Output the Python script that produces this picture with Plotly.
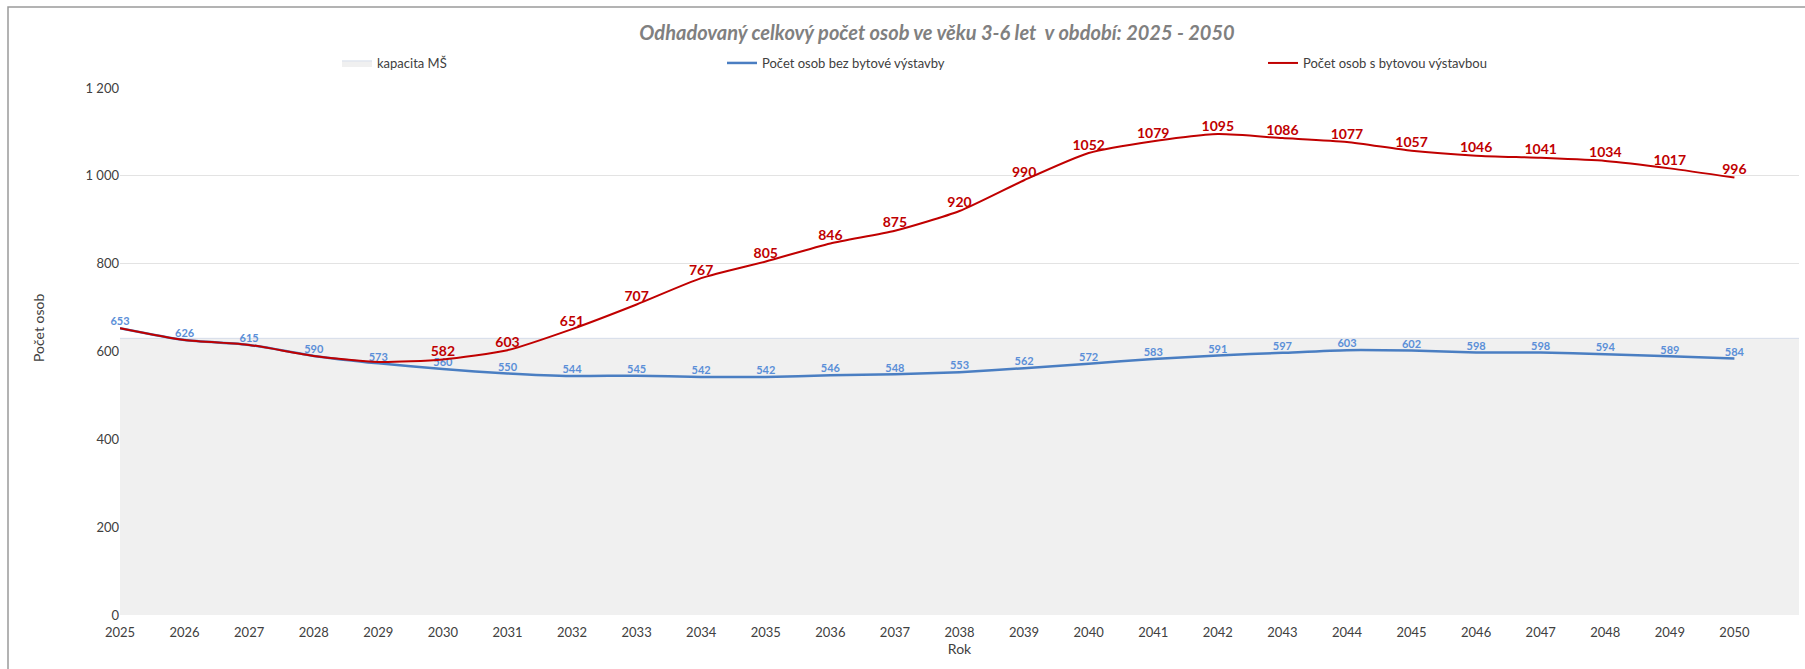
import plotly.graph_objects as go

years = list(range(2025, 2051))
area_years = list(range(2025, 2052))
kapacita = [630] * len(area_years)
bez_vystavby = [653, 626, 615, 590, 573, 560, 550, 544, 545, 542, 542, 546, 548, 553,
                562, 572, 583, 591, 597, 603, 602, 598, 598, 594, 589, 584]
s_vystavbou = [653, 626, 615, 590, 576, 582, 603, 651, 707, 767, 805, 846, 875, 920,
               990, 1052, 1079, 1095, 1086, 1077, 1057, 1046, 1041, 1034, 1017, 996]
red_label_from = 2030

title_text = "Odhadovaný celkový počet osob ve věku 3-6 let  v období: 2025 - 2050"
x_title = "Rok"
y_title = "Počet osob"
FONT = "Lato"

W, H = 1805, 669
L, R, T, B = 120, 6, 88, 54
pw, ph = W - L - R, H - T - B

fig = go.Figure()

fig.add_trace(go.Scatter(
    x=area_years, y=kapacita, name="kapacita MŠ", mode="lines",
    fill="tozeroy", fillcolor="#F0F0F0", showlegend=True,
    line=dict(color="#D5DDEA", width=1), legend="legend", hoverinfo="skip",
))

fig.add_trace(go.Scatter(
    x=years, y=bez_vystavby, name="Počet osob bez bytové výstavby", showlegend=True,
    mode="lines+text", line=dict(color="#4A7EC2", width=2.5, shape="spline", smoothing=0.6),
    text=[str(v) for v in bez_vystavby], texttemplate="%{text}",
    textposition="top center", cliponaxis=False,
    textfont=dict(family=FONT, size=11, color="#5B8FD8", weight="bold"),
    legend="legend2",
))

red_text = [str(v) if y >= red_label_from else "" for y, v in zip(years, s_vystavbou)]
fig.add_trace(go.Scatter(
    x=years, y=s_vystavbou, name="Počet osob s bytovou výstavbou", showlegend=True,
    mode="lines+text", line=dict(color="#C00000", width=2, shape="spline", smoothing=0.6),
    text=red_text, texttemplate="%{text}",
    textposition="top center", cliponaxis=False,
    textfont=dict(family=FONT, size=14, color="#C00000", weight="bold"),
    legend="legend3",
))

leg_common = dict(orientation="h", xref="container", yref="container",
                  yanchor="middle", xanchor="left",
                  font=dict(family=FONT, size=13, color="#404040"),
                  bgcolor="rgba(0,0,0,0)", itemwidth=30)

fig.update_layout(
    width=W, height=H,
    margin=dict(l=L, r=R, t=T, b=B, autoexpand=False),
    paper_bgcolor="white", plot_bgcolor="white",
    showlegend=True,
    separators=", ",
    font=dict(family=FONT, size=13, color="#404040"),
    title=dict(text="<b><i>" + title_text + "</i></b>", x=937 / W, xref="container",
               xanchor="center", y=1 - 33 / H, yref="container", yanchor="middle",
               font=dict(family=FONT, size=20, color="#808080")),
    legend=dict(x=(377 - 40) / W, y=1 - 63 / H, **leg_common),
    legend2=dict(x=(762 - 40) / W, y=1 - 63 / H, **leg_common),
    legend3=dict(x=(1303 - 40) / W, y=1 - 63 / H, **leg_common),
    xaxis=dict(range=[2025, 2051], tickmode="array", tickvals=years, automargin=False,
               ticktext=[str(y) for y in years], showgrid=False, zeroline=False,
               showline=False, ticks="", ticklabelstandoff=8,
               tickfont=dict(family=FONT, size=13, color="#404040"),
               title=dict(text=x_title, font=dict(family=FONT, size=14, color="#404040"),
                          standoff=4)),
    yaxis=dict(range=[0, 1200], dtick=200, tickformat=",", showgrid=True, automargin=False,
               gridcolor="#E3E3E3", gridwidth=1, zeroline=False, showline=False,
               ticks="", tickfont=dict(family=FONT, size=13, color="#404040")),
    annotations=[dict(text=y_title, textangle=-90, xref="paper", yref="paper",
                      x=(38 - L) / pw, y=(H - B - 328) / ph, xanchor="center", yanchor="middle",
                      showarrow=False, font=dict(family=FONT, size=14, color="#404040"))],
    shapes=[dict(type="rect", xref="paper", yref="paper",
                 x0=(8 - L) / pw, x1=(W + 20 - L) / pw,
                 y0=-0.5, y1=(H - B - 7) / ph,
                 line=dict(color="#9A9A9A", width=1.5), fillcolor="rgba(0,0,0,0)", layer="below")],
)

fig.write_html("out.html", config={"displayModeBar": False},
               post_script="document.body.style.margin='0';document.body.style.overflow='hidden';")
